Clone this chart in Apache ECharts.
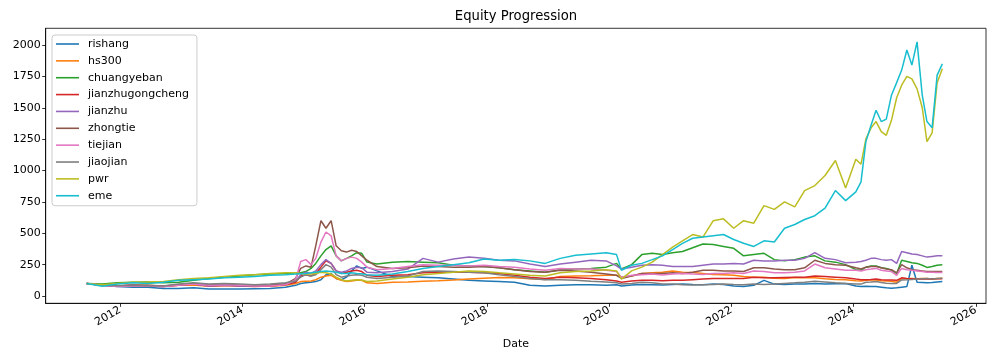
<!DOCTYPE html>
<html><head><meta charset="utf-8">
<script src="https://cdn.jsdelivr.net/npm/echarts@6/dist/echarts.min.js"></script>
<style>html,body{margin:0;padding:0;background:#fff}#c{width:999px;height:357px}</style>
</head><body><div id="c"></div>
<script>
const dates = [
'2011-06-15','2011-09-15','2011-12-15','2012-03-15','2012-06-15','2012-09-15','2012-12-15','2013-03-15','2013-06-15','2013-09-15',
'2013-12-15','2014-03-15','2014-06-15','2014-09-15','2014-11-15','2014-12-15','2015-01-15','2015-02-15','2015-03-15','2015-04-15',
'2015-05-15','2015-06-15','2015-07-15','2015-08-15','2015-09-15','2015-10-15','2015-11-15','2015-12-15','2016-01-15','2016-03-15',
'2016-06-15','2016-09-15','2016-12-15','2017-03-15','2017-06-15','2017-09-15','2017-12-15','2018-03-15','2018-06-15','2018-09-15',
'2018-12-15','2019-03-15','2019-06-15','2019-09-15','2019-12-15','2020-02-15','2020-03-15','2020-05-15','2020-07-15','2020-09-15',
'2020-11-15','2021-01-15','2021-03-15','2021-05-15','2021-07-15','2021-09-15','2021-11-15','2022-01-15','2022-03-15','2022-05-15',
'2022-07-15','2022-09-15','2022-11-15','2023-01-15','2023-03-15','2023-05-15','2023-07-15','2023-09-15','2023-11-15','2024-01-15',
'2024-02-15','2024-03-15','2024-04-15','2024-05-15','2024-06-15','2024-07-15','2024-08-15','2024-09-15','2024-10-15','2024-11-15',
'2024-12-15','2025-01-15','2025-02-15','2025-03-15','2025-04-15','2025-05-15','2025-06-15'];

const rishang = [
100,85,75,70,70,60,60,65,55,55,
55,58,60,70,85,100,105,110,115,130,
170,180,140,130,150,200,240,220,230,200,
155,155,150,145,135,125,120,115,110,85,
80,85,90,90,85,90,80,88,92,90,
88,92,95,92,90,95,92,80,75,85,
125,95,92,95,95,100,95,98,100,80,
75,78,75,75,70,65,62,65,70,75,
245,110,108,105,108,112,115];

const hs300 = [
100,88,82,85,85,78,85,88,78,82,
82,78,78,85,100,115,118,120,130,150,
160,165,140,125,115,120,125,125,105,100,
110,112,118,122,128,135,142,148,145,138,
132,155,160,162,165,165,150,160,180,185,
190,200,190,188,180,172,170,165,155,150,
150,142,140,148,145,145,138,132,130,122,
120,125,128,128,122,120,118,110,140,138,
140,138,140,140,135,140,142];

const chuangyeban = [
100,95,105,110,112,105,110,125,140,150,
160,170,175,180,185,185,195,220,260,320,
370,400,320,280,300,320,345,340,270,255,
270,275,270,265,245,240,235,225,210,200,
190,210,215,220,230,260,215,250,330,340,
330,345,355,385,415,410,395,380,320,330,
340,290,280,290,310,320,280,270,250,210,
205,230,240,240,225,220,205,180,285,275,
265,260,245,228,235,245,250];

const jianzhugongcheng = [
100,85,80,85,80,75,85,95,80,85,
80,75,80,90,110,160,170,160,180,230,
280,260,200,180,190,200,205,195,165,155,
165,170,185,190,190,190,185,180,165,150,
140,150,145,140,130,120,110,120,125,125,
122,125,125,130,135,140,140,140,140,150,
145,145,148,150,150,160,155,150,145,135,
130,130,132,135,130,128,128,125,145,140,
138,136,137,135,135,137,138];

const jianzhu = [
100,85,80,85,80,75,90,95,80,85,
80,80,85,95,120,170,190,180,200,250,
290,260,200,190,200,220,230,225,190,185,
195,215,300,270,295,310,300,285,280,255,
235,255,270,285,280,240,215,230,245,250,
245,235,235,235,245,255,255,260,255,285,
280,280,285,285,300,345,300,290,265,270,
275,285,300,300,290,285,290,260,355,345,
335,330,320,310,315,320,320];

const zhongtie = [
100,85,80,85,85,80,90,100,90,95,
85,80,85,95,140,220,240,230,400,600,
540,600,400,360,350,365,355,320,285,235,
220,225,240,235,230,230,235,225,210,195,
190,205,200,190,175,165,140,160,180,180,
180,185,180,190,205,205,200,200,195,225,
225,215,210,210,225,285,260,250,245,225,
215,230,235,235,225,215,210,185,250,225,
210,205,200,195,195,195,195];

const tiejian = [
100,85,75,80,80,75,85,95,85,90,
85,80,80,90,130,275,290,250,300,430,
510,480,320,280,300,310,300,270,230,210,
220,235,250,245,245,240,245,235,230,215,
205,220,215,215,205,195,150,165,170,175,
168,175,180,175,172,180,180,185,180,200,
195,185,185,190,200,255,225,215,205,205,
200,210,215,220,205,200,195,165,220,210,
205,200,195,190,190,188,188];

const jiaojian = [
100,88,82,85,82,80,95,105,95,100,
95,90,95,105,120,150,170,160,170,210,
250,230,170,150,160,165,170,165,150,140,
150,160,195,200,195,190,185,170,155,140,
130,130,125,118,112,105,95,100,110,105,
95,95,90,88,90,92,95,92,90,95,
92,95,100,105,110,118,112,105,100,95,
95,110,112,115,108,102,100,100,128,130,
132,135,138,140,135,140,142];

const pwr = [
100,90,100,110,112,115,130,140,145,155,
165,170,180,185,185,180,175,175,180,190,
185,175,150,130,120,125,130,128,115,120,
135,150,170,180,190,200,195,185,175,165,
160,185,195,200,210,200,135,200,230,270,
330,390,440,490,470,600,615,540,600,580,
720,690,750,710,840,880,960,1080,860,1090,
1050,1250,1340,1390,1310,1280,1400,1580,1680,1750,
1730,1650,1500,1230,1300,1700,1810];

const eme = [
100,78,95,105,100,110,125,130,135,145,
150,155,165,170,175,178,180,185,190,195,
200,195,190,180,180,185,180,178,170,165,
175,195,220,235,250,265,295,285,290,280,
260,300,325,335,345,330,205,245,260,290,
320,370,420,460,470,480,490,450,420,395,
440,430,540,570,610,640,700,840,760,830,
910,1230,1360,1480,1390,1410,1600,1700,1800,1960,
1840,2025,1600,1390,1340,1760,1850];

const seriesNames = ['rishang','hs300','chuangyeban','jianzhugongcheng','jianzhu','zhongtie','tiejian','jiaojian','pwr','eme'];
const seriesValues = [rishang,hs300,chuangyeban,jianzhugongcheng,jianzhu,zhongtie,tiejian,jiaojian,pwr,eme];
const colors = ['#1f77b4','#ff7f0e','#2ca02c','#d62728','#9467bd','#8c564b','#e377c2','#7f7f7f','#bcbd22','#17becf'];
const yTicks = [0,250,500,750,1000,1250,1500,1750,2000];
const xTickYears = [2012,2014,2016,2018,2020,2022,2024,2026];

const font = 'DejaVu Sans';
const toTs = s => Date.parse(s + 'T00:00:00Z');
const xTickVals = xTickYears.map(y => Date.UTC(y,0,1));
const chart = echarts.init(document.getElementById('c'), null, {renderer:'canvas'});
const option = {
  animation: false,
  color: colors,
  title: {
    text: 'Equity Progression', left: 516, top: 10.5, padding: 0, textAlign: 'center',
    textStyle: {fontFamily: font, fontSize: 13.2, fontWeight: 'normal', color: '#000'}
  },
  legend: {
    orient: 'vertical', left: 52, top: 35, padding: [3, 8, 4, 4],
    itemWidth: 23, itemHeight: 1.6, itemGap: 4.86, icon: 'rect',
    backgroundColor: 'rgba(255,255,255,0.8)', borderColor: '#cccccc', borderWidth: 1, borderRadius: 3,
    textStyle: {fontFamily: font, fontSize: 11, color: '#000', lineHeight: 12, padding: [0, 0, 0, 4]},
    data: seriesNames
  },
  grid: {left: 45.7, right: 13, top: 28.3, bottom: 53.7, show: true, borderColor: '#000', borderWidth: 0.8, containLabel: false},
  xAxis: {
    type: 'value', min: Date.UTC(2010,9,13), max: Date.UTC(2026,2,3),
    name: 'Date', nameLocation: 'middle', nameGap: 35,
    nameTextStyle: {fontFamily: font, fontSize: 11, color: '#000'},
    axisLine: {show: true, onZero: false, lineStyle: {color: '#000', width: 0.8}},
    axisTick: {show: true, length: 3.5, lineStyle: {color: '#000', width: 0.8}, customValues: xTickVals},
    axisLabel: {rotate: 30, margin: 6, fontFamily: font, fontSize: 11, color: '#000', customValues: xTickVals,
      formatter: v => String(new Date(v).getUTCFullYear())},
    splitLine: {show: false}
  },
  yAxis: {
    type: 'value', min: -58, max: 2133,
    axisLine: {show: true, onZero: false, lineStyle: {color: '#000', width: 0.8}},
    axisTick: {show: true, length: 3.5, lineStyle: {color: '#000', width: 0.8}, customValues: yTicks},
    axisLabel: {margin: 5, fontFamily: font, fontSize: 11, color: '#000', customValues: yTicks,
      formatter: v => String(Math.round(v))},
    splitLine: {show: false}
  },
  series: seriesNames.map((n, k) => ({
    name: n, type: 'line', symbol: 'none', smooth: false,
    lineStyle: {width: 1.5, color: colors[k]}, itemStyle: {color: colors[k]},
    emphasis: {disabled: true},
    data: dates.map((d, i) => [toTs(d), seriesValues[k][i]])
  }))
};
chart.setOption(option);
</script></body></html>
